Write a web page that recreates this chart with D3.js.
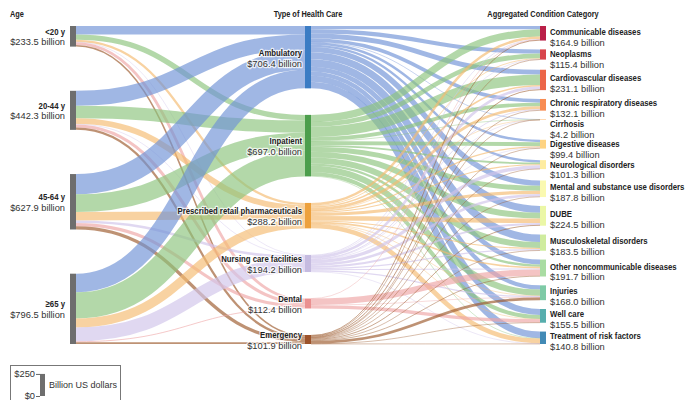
<!DOCTYPE html>
<html>
<head>
<meta charset="utf-8">
<script src="https://cdn.jsdelivr.net/npm/d3@7"></script>
<style>
  body{margin:0;background:#fff}
  svg text{font-family:"Liberation Sans",Arial,sans-serif;font-size:9.3px;fill:#333}
  .nm{font-weight:bold;fill:#222;font-size:9.5px}
  .hd{font-weight:bold;fill:#222;font-size:9px}
  .halo{stroke:#fff;stroke-width:2.5px;stroke-opacity:.75;paint-order:stroke;stroke-linejoin:round}
</style>
</head>
<body>
<svg id="chart" width="686" height="400"></svg>
<script>
const ages=["<20 y","20-44 y","45-64 y","≥65 y"];
const ageTotals=[233.5,442.3,627.9,796.5];

const types=["Ambulatory","Inpatient","Prescribed retail pharmaceuticals","Nursing care facilities","Dental","Emergency"];
const typeTotals=[706.4,697.0,288.2,194.2,112.4,101.9];

const conditions=["Communicable diseases","Neoplasms","Cardiovascular diseases","Chronic respiratory diseases","Cirrhosis",
  "Digestive diseases","Neurological disorders","Mental and substance use disorders","DUBE","Musculoskeletal disorders",
  "Other noncommunicable diseases","Injuries","Well care","Treatment of risk factors"];
const condTotals=[164.9,115.4,231.1,132.1,4.2,99.4,101.3,187.8,224.5,183.5,191.7,168.0,155.5,140.8];

// spending by age (rows) and type of care (cols), billion US$
const ageToType=[
  [95,62,25,1.5,32,18],
  [170,140,65,7,35,25.3],
  [230,200,95,30,35,37.9],
  [211.4,295,103.2,155.7,10.4,20.8]
];
// spending by type of care (rows) and condition (cols)
const typeToCond=[
  [38,47.4,55,42,1,28,27,60,77,85,55,48,68,75],
  [81.4,53.5,118.1,41.1,2.7,44.4,20.3,55.8,66.5,66.5,26.7,70,45.6,4.5],
  [28,9,18,32,0.1,14,12,36,50,12,18,4,2,53.1],
  [8,4,30,10,0.2,6,38,30,22,14,12,14,0,6],
  [0.5,0,0,0,0,0,0,0,0,0,72,2,37.9,0],
  [9,1.5,10,7,0.2,7,4,6,9,6,8,30,2,2.2]
];

const typeColor=["#3b7cc4","#4c9e4c","#eda13d","#c5bbe0","#ea9090","#9c532b"];
const linkColor=["#6f92d6","#8cc47c","#f5bb70","#d0c4ea","#eea6a6","#9c5a2c"];
const condColor=d3.scaleSequential(d3.interpolateSpectral).domain([-0.8,conditions.length+0.6]);

const svg=d3.select("#chart");
const yTop=26,yBottom=344,nodeW=6,scalePad=10.2,nodePad=8.5,labelSpace=20;
const colX=[70,305,540];
const squeeze=0.82; // bold labels are a condensed face in the original

// nodes
const cols=[
  ages.map((n,i)=>({name:n,total:ageTotals[i],col:0,i:i,value:d3.sum(ageToType[i])})),
  types.map((n,i)=>({name:n,total:typeTotals[i],col:1,i:i,
     value:Math.max(d3.sum(ageToType,r=>r[i]),d3.sum(typeToCond[i]))})),
  conditions.map((n,i)=>({name:n,total:condTotals[i],col:2,i:i,value:d3.sum(typeToCond,r=>r[i])}))
];

// links
const links=[];
ageToType.forEach((row,i)=>row.forEach((v,j)=>{
  if(v>0) links.push({source:cols[0][i],target:cols[1][j],value:v,type:j});
}));
typeToCond.forEach((row,i)=>row.forEach((v,j)=>{
  if(v>0) links.push({source:cols[1][i],target:cols[2][j],value:v,type:i});
}));

// vertical layout: common scale, label-aware spacing, spread to fill height
const H=yBottom-yTop;
const k=d3.min(cols,c=>(H-(c.length-1)*scalePad)/d3.sum(c,d=>d.value));
cols.forEach((c,ci)=>{
  c.forEach(d=>{d.h=d.value*k});
  const slots=c.map((d,i)=>i<c.length-1?Math.max(d.h+nodePad,ci==2?labelSpace:0):d.h);
  const extra=(H-d3.sum(slots))/(c.length-1);
  let y=yTop;
  c.forEach((d,i)=>{
    d.y0=y; d.y1=y+d.h;
    d.x0=colX[ci]; d.x1=colX[ci]+nodeW;
    y+=slots[i]+(i<c.length-1?extra:0);
  });
});

// link offsets within nodes
cols.flat().forEach(n=>{
  const out=links.filter(l=>l.source===n).sort((a,b)=>a.target.y0-b.target.y0);
  let y=n.y0;
  out.forEach(l=>{l.width=l.value*k;l.y0=y+l.width/2;y+=l.width;});
  const inn=links.filter(l=>l.target===n).sort((a,b)=>a.source.y0-b.source.y0);
  y=n.y0;
  inn.forEach(l=>{l.width=l.value*k;l.y1=y+l.width/2;y+=l.width;});
});

const path=d3.linkHorizontal().source(d=>[d.source.x1,d.y0]).target(d=>[d.target.x0,d.y1]);

svg.append("g").attr("fill","none")
  .selectAll("path").data(links).join("path")
  .attr("d",path)
  .attr("stroke",d=>linkColor[d.type])
  .attr("stroke-opacity",0.66)
  .attr("stroke-width",d=>Math.max(0.6,d.width));

const nodeFill=d=>d.col==0?"#6e6e6e":d.col==1?typeColor[d.i]:condColor(d.i);
svg.append("g").selectAll("rect").data(cols.flat()).join("rect")
  .attr("x",d=>d.x0).attr("y",d=>d.y0)
  .attr("width",nodeW).attr("height",d=>Math.max(0.5,d.y1-d.y0))
  .attr("fill",nodeFill);

// headers
const heads=[{t:"Age",x:10,a:"start"},{t:"Type of Health Care",x:colX[1]+nodeW/2,a:"middle"},
  {t:"Aggregated Condition Category",x:colX[2]+nodeW/2,a:"middle"}];
svg.append("g").selectAll("text").data(heads).join("text")
  .attr("class","hd").attr("text-anchor",d=>d.a)
  .attr("transform",d=>`translate(${d.x},17) scale(${squeeze},1)`).text(d=>d.t);

const fmt=d=>"$"+d3.format(".1f")(d)+" billion";

// labels: bold name (condensed) + value line
function labels(data,xf,yf,anchor,halo){
  const g=svg.append("g");
  g.selectAll("text.nm").data(data).join("text")
    .attr("class","nm"+(halo?" halo":"")).attr("text-anchor",anchor)
    .attr("transform",d=>`translate(${xf(d)},${yf(d)}) scale(${squeeze},1)`)
    .text(d=>d.name);
  g.selectAll("text.val").data(data).join("text")
    .attr("class","val"+(halo?" halo":"")).attr("text-anchor",anchor)
    .attr("x",xf).attr("y",d=>yf(d)+10.8)
    .text(d=>fmt(d.total));
}
labels(cols[0],d=>d.x0-5,d=>(d.y0+d.y1)/2-1.8,"end",false);
labels(cols[1],d=>d.x0-3,d=>(d.y0+d.y1)/2-1.2,"end",true);
labels(cols[2],d=>d.x1+4,d=>Math.max((d.y0+d.y1)/2+1.5,d.y0+7.5),"start",false);

// scale legend
const legY=d3.scaleLinear().domain([0,250]).range([396,396-250*k]);
const leg=svg.append("g");
leg.append("rect").attr("x",10.5).attr("y",365.5).attr("width",110).attr("height",40)
  .attr("fill","none").attr("stroke","#777");
leg.append("rect").attr("x",40).attr("y",legY(250)).attr("width",5)
  .attr("height",legY(0)-legY(250)).attr("fill","#6e6e6e");
leg.append("g").attr("transform","translate(40,0)")
  .call(d3.axisLeft(legY).tickValues([0,250]).tickFormat(d=>"$"+d).tickSize(4).tickPadding(1))
  .attr("color","#666")
  .call(g=>g.select(".domain").remove());
leg.append("text").attr("x",49).attr("y",(legY(0)+legY(250))/2+3.5)
  .style("font-size","9px").text("Billion US dollars");
</script>
</body>
</html>
